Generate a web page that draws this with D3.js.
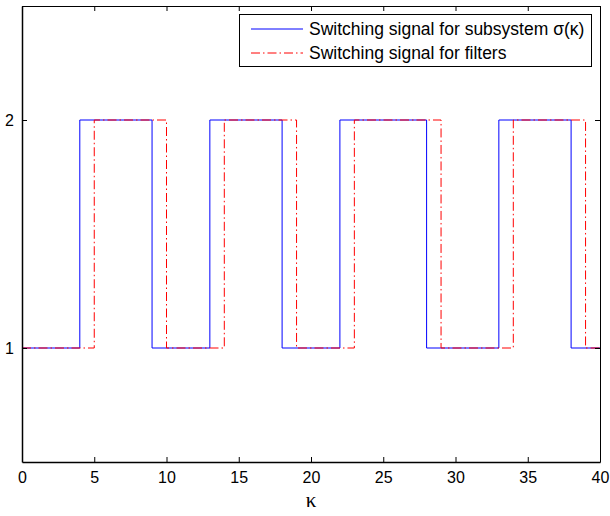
<!DOCTYPE html>
<html>
<head>
<meta charset="utf-8">
<script src="https://cdn.jsdelivr.net/npm/d3@7"></script>
<style>
  body { margin: 0; background: #fff; }
  svg { display: block; }
</style>
</head>
<body>
<script>
// switching instants and the active mode after each one
var subsystemK = [0, 4, 9, 13, 18, 22, 28, 33, 38, 40];
var subsystemSigma = [1, 2, 1, 2, 1, 2, 1, 2, 1, 1];
var filterK = [0, 5, 10, 14, 19, 23, 29, 34, 39, 40];
var filterSigma = [1, 2, 1, 2, 1, 2, 1, 2, 1, 1];
var xTicks = [0, 5, 10, 15, 20, 25, 30, 35, 40];
var yTicks = [1, 2];
var legendLabels = ["Switching signal for subsystem σ(κ)", "Switching signal for filters"];

var W = 610, H = 516;
// plot box (note: "top" is a reserved window prop, so use other names)
var plotL = 22, plotR = 600, plotT = 6, plotB = 462;

var svg = d3.select("body").append("svg")
    .attr("width", W)
    .attr("height", H);

var x = d3.scaleLinear().domain([0, 40]).range([plotL, plotR]);
var y = d3.scaleLinear().domain([0.5, 2.5]).range([plotB, plotT]);

// series
var line = d3.line()
    .x(function(d) { return x(d[0]); })
    .y(function(d) { return y(d[1]); })
    .curve(d3.curveStepAfter);

var subsystemData = d3.zip(subsystemK, subsystemSigma);
var filterData = d3.zip(filterK, filterSigma);

svg.append("path")
    .datum(subsystemData)
    .attr("d", line)
    .attr("fill", "none")
    .attr("stroke", "#0000ff")
    .attr("stroke-width", 1);

svg.append("path")
    .datum(filterData)
    .attr("d", line)
    .attr("fill", "none")
    .attr("stroke", "#ff0000")
    .attr("stroke-width", 1)
    .attr("stroke-dasharray", "9,3,1.5,3");

// axes, matlab style: ticks inside on all four sides
var tickLen = 5;
var fontSans = "'Liberation Sans', Arial, sans-serif";

var gx = svg.append("g").attr("transform", "translate(0," + plotB + ")")
    .call(d3.axisBottom(x).tickValues(xTicks).tickSizeInner(-tickLen).tickSizeOuter(0).tickPadding(10));
var gxTop = svg.append("g").attr("transform", "translate(0," + plotT + ")")
    .call(d3.axisTop(x).tickValues(xTicks).tickSizeInner(-tickLen).tickSizeOuter(0).tickFormat(""));
var gy = svg.append("g").attr("transform", "translate(" + plotL + ",0)")
    .call(d3.axisLeft(y).tickValues(yTicks).tickFormat(d3.format("d"))
      .tickSizeInner(-tickLen).tickSizeOuter(0).tickPadding(8));
var gyRight = svg.append("g").attr("transform", "translate(" + plotR + ",0)")
    .call(d3.axisRight(y).tickValues(yTicks).tickSizeInner(-tickLen).tickSizeOuter(0).tickFormat(""));

[gx, gxTop, gy, gyRight].forEach(function(g) {
  g.select(".domain").attr("stroke", "#000").attr("stroke-width", 1);
  g.selectAll(".tick line").attr("stroke", "#000");
  g.selectAll("text")
    .attr("fill", "#000")
    .style("font-family", fontSans)
    .style("font-size", "16px");
});
gx.select(".domain").attr("stroke-width", 1.5);
gy.select(".domain").attr("stroke-width", 1.5);

// x label
svg.append("text")
    .attr("x", x(20))
    .attr("y", 507)
    .attr("text-anchor", "middle")
    .style("font-family", "'Liberation Serif', 'Times New Roman', serif")
    .style("font-size", "21px")
    .text("κ");

// legend
var legend = svg.append("g");
legend.append("rect")
    .attr("x", 239.5)
    .attr("y", 14.5)
    .attr("width", 352)
    .attr("height", 52)
    .attr("fill", "#fff")
    .attr("stroke", "#000")
    .attr("stroke-width", 1);

var legendColors = ["#0000ff", "#ff0000"];
var legendDash = [null, "9,3,1.5,3"];
legendLabels.forEach(function(label, i) {
  var ly = 29 + i * 24;
  legend.append("line")
      .attr("x1", 251).attr("x2", 303)
      .attr("y1", ly).attr("y2", ly)
      .attr("stroke", legendColors[i])
      .attr("stroke-width", 1)
      .attr("stroke-dasharray", legendDash[i]);
  legend.append("text")
      .attr("x", 309)
      .attr("y", ly + 6)
      .style("font-family", fontSans)
      .style("font-size", "17.5px")
      .text(label);
});
</script>
</body>
</html>
